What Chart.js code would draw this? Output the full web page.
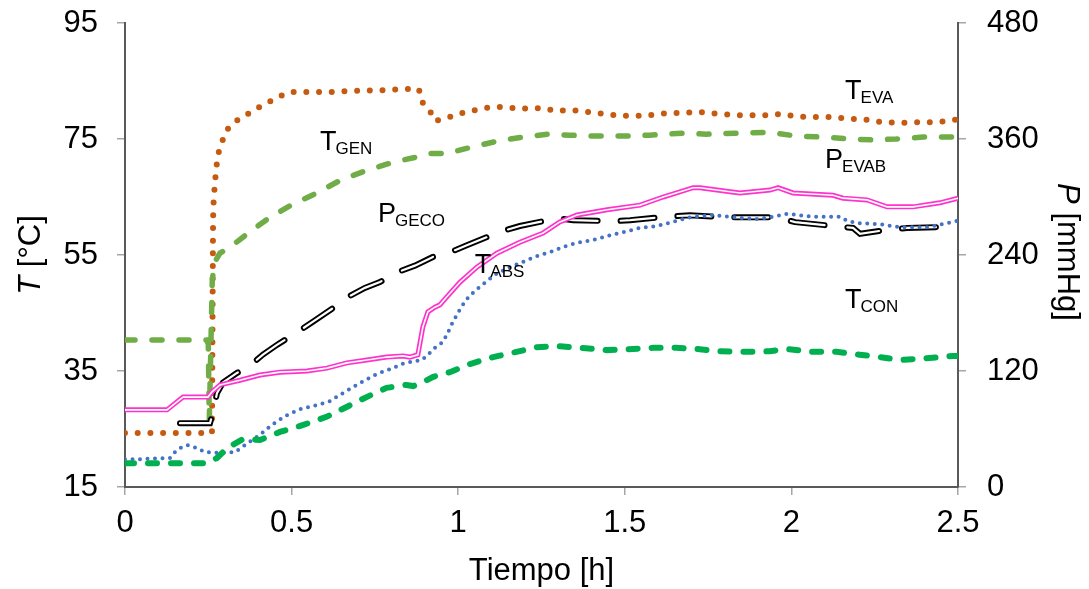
<!DOCTYPE html>
<html>
<head>
<meta charset="utf-8">
<script src="https://cdn.jsdelivr.net/npm/chart.js@4.4.1/dist/chart.umd.min.js"></script>
<style>
  html, body { margin: 0; padding: 0; background: #fff; }
  #wrap { width: 1089px; height: 589px; }
</style>
</head>
<body>
<div id="wrap"><canvas id="chart" width="1089" height="589"></canvas></div>
<script>
// time axis in hours, temperatures in degC (left axis), pressures in mmHg (right axis)
const genHours = [0, 0.1, 0.2, 0.261, 0.264, 0.265, 0.27, 0.278, 0.29, 0.303,
  0.327, 0.36, 0.393, 0.426, 0.459, 0.495, 0.534, 0.612, 0.684, 0.765,
  0.843, 0.882, 0.891, 0.912, 0.93, 0.966, 0.999, 1.038, 1.074, 1.11,
  1.146, 1.182, 1.221, 1.257, 1.293, 1.332, 1.372, 1.408, 1.447, 1.483,
  1.522, 1.561, 1.6, 1.639, 1.678, 1.717, 1.753, 1.792, 1.846, 1.885,
  1.924, 1.963, 2.002, 2.041, 2.08, 2.119, 2.155, 2.194, 2.233, 2.272,
  2.311, 2.35, 2.389, 2.425, 2.467, 2.5];
const genTemp = [24.3, 24.3, 24.3, 24.3, 58.8, 63.3, 67.6, 72.1, 74.3, 76.4,
  77.9, 79.0, 80.2, 81.2, 82.2, 83.1, 83.1, 83.1, 83.3, 83.4,
  83.6, 83.6, 81.4, 80.2, 78.1, 78.6, 79.3, 79.8, 80.3, 80.5,
  80.5, 80.2, 80.3, 80.3, 79.8, 80.0, 79.8, 79.5, 79.3, 79.0,
  79.0, 79.0, 79.3, 79.5, 79.5, 79.7, 79.5, 79.3, 79.1, 79.1,
  79.1, 79.3, 79.0, 78.8, 78.8, 78.8, 78.6, 78.4, 78.3, 77.9,
  77.8, 77.8, 77.9, 77.9, 78.1, 78.4];

const evabHours = [0, 0.1, 0.17, 0.245, 0.25, 0.253, 0.262, 0.27, 0.285, 0.315,
  0.375, 0.435, 0.5, 0.575, 0.65, 0.73, 0.805, 0.885, 0.915, 0.966,
  1.045, 1.12, 1.195, 1.27, 1.335, 1.415, 1.495, 1.575, 1.675, 1.745,
  1.835, 1.935, 2.015, 2.095, 2.175, 2.245, 2.315, 2.395, 2.47, 2.5];
const evabPress = [152, 152, 152, 152, 148, 69, 215, 233, 242, 248,
  264, 279, 292, 304, 318, 328, 336, 342, 345, 345,
  352, 358, 362, 365, 364, 363, 363, 364, 366, 365,
  366, 367, 363, 362, 360, 359, 360, 362, 362, 362];

const conHours = [0, 0.105, 0.186, 0.246, 0.276, 0.306, 0.355, 0.405, 0.465, 0.535,
  0.605, 0.665, 0.725, 0.785, 0.845, 0.865, 0.905, 0.925, 0.975, 1.035,
  1.105, 1.175, 1.235, 1.295, 1.365, 1.445, 1.525, 1.585, 1.655, 1.715,
  1.785, 1.865, 1.935, 1.985, 2.065, 2.135, 2.205, 2.265, 2.325, 2.405,
  2.485, 2.5];
const conTemp = [19.1, 19.1, 19.1, 19.1, 20.0, 21.7, 23.3, 23.1, 24.5, 25.7,
  27.1, 28.8, 30.5, 32.1, 32.6, 32.4, 33.4, 34.0, 34.8, 36.2,
  37.4, 38.3, 39.1, 39.3, 39.0, 38.6, 38.8, 39.0, 39.0, 38.8,
  38.4, 38.3, 38.4, 38.8, 38.3, 38.3, 37.8, 37.4, 36.9, 37.2,
  37.6, 37.6];

const blueHours = [0, 0.045, 0.135, 0.15, 0.171, 0.189, 0.216, 0.24, 0.285, 0.33,
  0.369, 0.405, 0.441, 0.48, 0.525, 0.576, 0.615, 0.66, 0.705, 0.756,
  0.795, 0.84, 0.864, 0.891, 0.909, 0.93, 0.954, 0.969, 0.981, 0.996,
  1.011, 1.029, 1.05, 1.071, 1.11, 1.155, 1.194, 1.236, 1.276, 1.315,
  1.357, 1.405, 1.456, 1.501, 1.546, 1.597, 1.645, 1.687, 1.705, 1.765,
  1.846, 1.897, 1.945, 1.987, 2.065, 2.146, 2.167, 2.197, 2.266, 2.326,
  2.407, 2.467, 2.5];
const blueTemp = [19.8, 19.8, 20.0, 21.0, 21.9, 22.2, 21.7, 21.0, 20.9, 21.0,
  22.6, 24.0, 25.7, 27.2, 28.4, 29.1, 29.8, 31.4, 32.9, 34.5,
  35.3, 36.4, 36.6, 36.9, 37.8, 39.0, 40.0, 41.6, 43.1, 44.7,
  46.2, 47.6, 48.8, 49.8, 51.6, 52.9, 53.8, 54.8, 55.5, 56.4,
  57.1, 57.6, 58.4, 59.0, 59.7, 60.0, 60.7, 61.4, 61.6, 61.9,
  61.4, 61.2, 61.6, 62.1, 61.6, 61.6, 60.9, 60.5, 60.3, 59.8,
  59.8, 60.5, 60.9];

const pinkHours = [0, 0.126, 0.174, 0.249, 0.261, 0.285, 0.345, 0.405, 0.465, 0.546,
  0.606, 0.666, 0.726, 0.786, 0.834, 0.855, 0.879, 0.894, 0.909, 0.93,
  0.945, 0.966, 1.005, 1.056, 1.116, 1.185, 1.255, 1.305, 1.357, 1.447,
  1.546, 1.615, 1.705, 1.726, 1.816, 1.846, 1.936, 1.96, 2.005, 2.125,
  2.155, 2.227, 2.287, 2.365, 2.446, 2.5];
const pinkTemp = [28.3, 28.3, 30.5, 30.5, 31.4, 32.6, 33.4, 34.3, 34.8, 35.0,
  35.5, 36.4, 36.9, 37.4, 37.6, 37.4, 37.8, 42.6, 45.2, 46.0,
  46.4, 47.8, 50.3, 52.9, 55.3, 57.2, 58.8, 60.7, 61.9, 62.8,
  63.6, 65.0, 66.6, 66.6, 65.9, 65.7, 66.2, 66.6, 65.7, 65.3,
  64.8, 64.5, 63.3, 63.3, 64.0, 64.8];

const gecoHours = [0.165, 0.255, 0.264, 0.276, 0.294, 0.336, 0.366, 0.414, 0.456, 0.516,
  0.564, 0.624, 0.666, 0.72, 0.765, 0.816, 0.87, 0.924, 0.969, 1.026,
  1.125, 1.185, 1.297, 1.345, 1.465, 1.516, 1.636, 1.696, 1.81, 1.846,
  1.957, 2.011, 2.125, 2.185, 2.206, 2.287, 2.347, 2.455, 2.5];
const gecoPress = [66, 66, 77, 97, 108, 118, 123, 137, 147, 160,
  171, 185, 196, 206, 212, 222, 229, 238, 242, 250,
  264, 270, 278, 276, 275, 276, 280, 281, 279, 279,
  279, 274, 270, 268, 262, 266, 268, 269, 271];

// curve labels: main letter, subscript, position in (hours, degC)
const curveLabels = [
  {main: 'T', sub: 'GEN', h: 0.585, t: 73.1},
  {main: 'P', sub: 'GECO', h: 0.759, t: 60.7},
  {main: 'T', sub: 'ABS', h: 1.05, t: 51.9},
  {main: 'T', sub: 'CON', h: 2.161, t: 45.9},
  {main: 'T', sub: 'EVA', h: 2.161, t: 81.9},
  {main: 'P', sub: 'EVAB', h: 2.101, t: 70.0}
];

const FONT = '"Liberation Sans", Arial, sans-serif';

function points(hours, vals) {
  return hours.map((h, i) => ({x: h, y: vals[i]}));
}

const textPlugin = {
  id: 'textPlugin',
  afterDraw(chart) {
    const {ctx, chartArea, scales} = chart;
    ctx.save();
    ctx.fillStyle = '#000';

    // curve labels with subscripts
    ctx.textBaseline = 'alphabetic';
    ctx.textAlign = 'left';
    curveLabels.forEach(l => {
      const px = scales.x.getPixelForValue(l.h);
      const py = scales.y.getPixelForValue(l.t);
      ctx.font = '27px ' + FONT;
      ctx.fillText(l.main, px, py);
      const w = ctx.measureText(l.main).width;
      ctx.font = '17px ' + FONT;
      ctx.fillText(l.sub, px + w - 1, py + 4);
    });

    // x title
    ctx.font = '31px ' + FONT;
    ctx.textAlign = 'center';
    ctx.fillText('Tiempo [h]', (chartArea.left + chartArea.right) / 2, 580);

    const midY = (chartArea.top + chartArea.bottom) / 2;
    function rotatedTitle(x, y, angle, italicPart, rest) {
      ctx.save();
      ctx.translate(x, y);
      ctx.rotate(angle);
      ctx.textBaseline = 'middle';
      ctx.textAlign = 'left';
      ctx.font = 'italic 31px ' + FONT;
      const w1 = ctx.measureText(italicPart).width;
      ctx.font = '31px ' + FONT;
      const w2 = ctx.measureText(rest).width;
      const start = -(w1 + w2) / 2;
      ctx.font = 'italic 31px ' + FONT;
      ctx.fillText(italicPart, start, 0);
      ctx.font = '31px ' + FONT;
      ctx.fillText(rest, start + w1, 0);
      ctx.restore();
    }
    rotatedTitle(31, midY, -Math.PI / 2, 'T', ' [°C]');
    rotatedTitle(1067, midY - 3, Math.PI / 2, 'P', ' [mmHg]');
    ctx.restore();
  }
};

const axisBorder = {color: '#595959', width: 2};
const axisGrid = {drawOnChartArea: false, drawTicks: true, tickLength: 8, color: '#a6a6a6', lineWidth: 1.5};
const tickFont = {family: FONT, size: 31};

// keep the layout from adding label overflow on top of the fixed padding
function fixBox(w, h) {
  return s => {
    if (w) s.width = w;
    if (h) s.height = h;
    s.paddingTop = 0;
    s.paddingBottom = 0;
    s.paddingLeft = 0;
    s.paddingRight = 0;
  };
}

new Chart(document.getElementById('chart'), {
  type: 'line',
  data: {
    datasets: [
      {
        label: 'T CON',
        data: points(conHours, conTemp),
        yAxisID: 'y',
        borderColor: '#00b050',
        borderWidth: 6,
        borderDash: [9, 14],
        borderCapStyle: 'round',
        order: 1
      },
      {
        label: 'T blue',
        data: points(blueHours, blueTemp),
        yAxisID: 'y',
        borderColor: '#4472c4',
        borderWidth: 4,
        borderDash: [0, 7.5],
        borderCapStyle: 'round',
        order: 2
      },
      {
        label: 'T pink inner',
        data: points(pinkHours, pinkTemp),
        yAxisID: 'y',
        borderColor: '#ffffff',
        borderWidth: 1.6,
        order: 3
      },
      {
        label: 'T pink',
        data: points(pinkHours, pinkTemp),
        yAxisID: 'y',
        borderColor: '#ff33cc',
        borderWidth: 5,
        order: 4
      },
      {
        label: 'P GECO inner',
        data: points(gecoHours, gecoPress),
        yAxisID: 'y2',
        borderColor: '#ffffff',
        borderWidth: 2.2,
        borderDash: [34, 23],
        borderCapStyle: 'round',
        order: 5
      },
      {
        label: 'P GECO',
        data: points(gecoHours, gecoPress),
        yAxisID: 'y2',
        borderColor: '#000000',
        borderWidth: 6,
        borderDash: [34, 23],
        borderCapStyle: 'round',
        order: 6
      },
      {
        label: 'P EVAB',
        data: points(evabHours, evabPress),
        yAxisID: 'y2',
        borderColor: '#70ad47',
        borderWidth: 5.5,
        borderDash: [10, 17],
        borderCapStyle: 'round',
        order: 7
      },
      {
        label: 'T GEN',
        data: points(genHours, genTemp),
        yAxisID: 'y',
        borderColor: '#c55a11',
        borderWidth: 6,
        borderDash: [0, 12.7],
        borderCapStyle: 'round',
        order: 8
      }
    ]
  },
  options: {
    responsive: false,
    animation: false,
    devicePixelRatio: 1,
    layout: {padding: {top: 23, left: 0, right: 0, bottom: 0}},
    elements: {
      point: {radius: 0, hoverRadius: 0},
      line: {tension: 0, fill: false}
    },
    plugins: {
      legend: {display: false},
      tooltip: {enabled: false},
      title: {display: false}
    },
    scales: {
      x: {
        type: 'linear',
        min: 0,
        max: 2.5,
        border: axisBorder,
        grid: axisGrid,
        ticks: {stepSize: 0.5, color: '#000', font: tickFont, padding: 10, maxRotation: 0,
          callback: v => String(v)},
        afterFit: fixBox(0, 102)
      },
      y: {
        position: 'left',
        min: 15,
        max: 95,
        border: axisBorder,
        grid: axisGrid,
        ticks: {stepSize: 20, color: '#000', font: tickFont, padding: 19},
        afterFit: fixBox(125, 0)
      },
      y2: {
        position: 'right',
        min: 0,
        max: 480,
        border: axisBorder,
        grid: axisGrid,
        ticks: {stepSize: 120, color: '#000', font: tickFont, padding: 21},
        afterFit: fixBox(131, 0)
      }
    }
  },
  plugins: [textPlugin]
});
</script>
</body>
</html>
